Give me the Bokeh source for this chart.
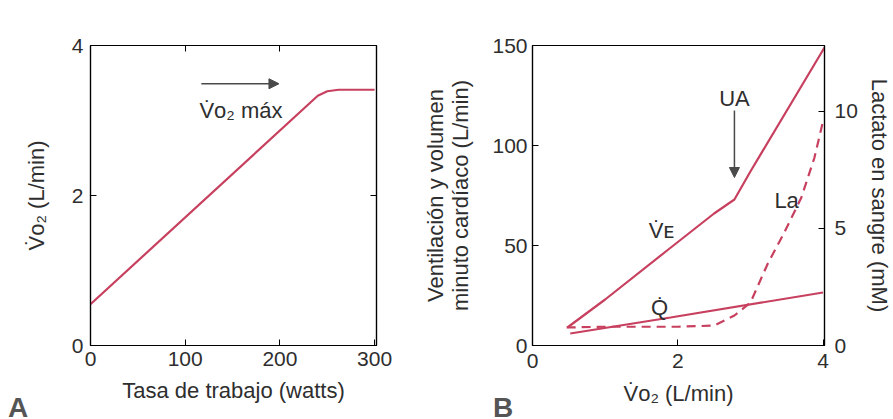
from bokeh.plotting import figure
from bokeh.models import LinearAxis, Range1d, Label, Arrow, NormalHead, FixedTicker, Div
from bokeh.layouts import row, column
from bokeh.embed import file_html
from bokeh.resources import INLINE

# ---- Panel A: oxygen uptake vs work rate ----
work_watts = [0, 240, 250, 262, 300]
vo2_lmin = [0.55, 3.33, 3.39, 3.41, 3.41]
a_xticks = [0, 100, 200, 300]
a_yticks = [0, 2, 4]

# ---- Panel B: ventilation, cardiac output and blood lactate vs VO2 ----
ve_x = [0.48, 1.0, 1.87, 2.5, 2.78, 3.0, 4.02]
ve_y = [9, 23, 48, 66, 73, 87, 149]
q_x = [0.52, 1.9, 4.0]
q_y = [6, 14, 26.5]
la_x = [0.47, 1.0, 2.0, 2.5, 2.78, 3.0, 3.24, 3.46, 3.7, 3.88, 4.01]
la_y = [0.77, 0.8, 0.8, 0.85, 1.28, 1.83, 3.5, 4.78, 6.3, 8.0, 9.7]
b_xticks = [0, 2, 4]
b_yticks = [0, 50, 100, 150]
b_rticks = [0, 5, 10]

panel_letters = ["A", "B"]

LINE = "#c8405f"
INK = "#2e2e2e"
FONT = "Liberation Sans"
TICK_PX = "21px"
LABEL_PX = "22px"


def style_axis(ax, standoff, label_standoff=None):
    ax.axis_line_color = "black"
    ax.axis_line_width = 1.2
    ax.major_tick_in = 6
    ax.major_tick_out = 0
    ax.major_tick_line_color = "black"
    ax.minor_tick_line_color = None
    ax.major_label_text_font = FONT
    ax.major_label_text_color = INK
    ax.major_label_text_font_size = TICK_PX
    ax.major_label_standoff = standoff
    ax.axis_label_text_font = FONT
    ax.axis_label_text_font_size = LABEL_PX
    ax.axis_label_text_font_style = "normal"
    ax.axis_label_text_color = INK
    ax.axis_label_text_line_height = 1.0
    if label_standoff is not None:
        ax.axis_label_standoff = label_standoff


def tick_only_axis(ticks, **kw):
    ax = LinearAxis(ticker=FixedTicker(ticks=ticks), **kw)
    style_axis(ax, 0)
    ax.major_label_overrides = {t: "" for t in ticks}
    return ax


def text(p, x, y, s, size="22px", align="center", baseline="middle"):
    p.add_layout(Label(x=x, y=y, text=s, text_font=FONT, text_font_size=size,
                       text_align=align, text_baseline=baseline,
                       text_color=INK))


def arrow(p, x0, y0, x1, y1):
    p.add_layout(Arrow(x_start=x0, y_start=y0, x_end=x1, y_end=y1,
                       line_color="#4a4a4a", line_width=1.5,
                       end=NormalHead(size=10, fill_color="#4a4a4a",
                                      line_color="#4a4a4a")))


def base_figure(**kw):
    p = figure(output_backend="svg", toolbar_location=None, **kw)
    p.grid.visible = False
    p.outline_line_color = "black"
    p.outline_line_width = 1.2
    p.background_fill_color = "white"
    p.border_fill_color = "white"
    return p


# ================= Panel A =================
pa = base_figure(width=420, height=419, frame_width=286, frame_height=300,
                 x_range=Range1d(0, 302), y_range=Range1d(0, 4),
                 min_border_left=90, min_border_right=44,
                 min_border_top=42, min_border_bottom=77)
pa.xaxis.ticker = FixedTicker(ticks=a_xticks)
pa.yaxis.ticker = FixedTicker(ticks=a_yticks)
pa.xaxis.axis_label = "Tasa de trabajo (watts)"
pa.yaxis.axis_label = "V̇ᴏ₂ (L/min)"
style_axis(pa.xaxis[0], 6, 9)
style_axis(pa.yaxis[0], 7, 20)
pa.add_layout(tick_only_axis([100, 200]), "above")
pa.add_layout(tick_only_axis([2]), "right")

pa.line(work_watts, vo2_lmin, line_color=LINE, line_width=2.2)

arrow(pa, 117, 3.49, 199, 3.49)
text(pa, 115, 3.13, "V̇ᴏ₂ máx", align="left")

# ================= Panel B =================
pb = base_figure(width=473, height=419, frame_width=292, frame_height=300,
                 x_range=Range1d(0, 4.02), y_range=Range1d(0, 150),
                 min_border_left=111, min_border_right=70,
                 min_border_top=45, min_border_bottom=74)
pb.extra_y_ranges = {"la": Range1d(0, 12.8)}

pb.xaxis.ticker = FixedTicker(ticks=b_xticks)
pb.yaxis.ticker = FixedTicker(ticks=b_yticks)
pb.xaxis.axis_label = "V̇ᴏ₂ (L/min)"
pb.yaxis.axis_label = "Ventilación y volumen\nminuto cardíaco (L/min)"
style_axis(pb.xaxis[0], 8, 10)
style_axis(pb.yaxis[0], 5, 16)

right_b = LinearAxis(y_range_name="la", ticker=FixedTicker(ticks=b_rticks),
                     axis_label="Lactato en sangre (mM)")
style_axis(right_b, 10, 6)
pb.add_layout(right_b, "right")

pb.line(ve_x, ve_y, line_color=LINE, line_width=2.2)
pb.line(q_x, q_y, line_color=LINE, line_width=2.2)
pb.line(la_x, la_y, y_range_name="la", line_color=LINE, line_width=2.2,
        line_dash="9 6")

arrow(pb, 2.78, 117.5, 2.78, 84)
text(pb, 2.78, 123.5, "UA")
text(pb, 1.6, 57.5, "V̇ᴇ", align="left")
text(pb, 1.75, 19, "Q̇")
text(pb, 3.33, 72.5, "La", align="left")

# ---- panel letters in the lower-left corners (outside the plot frames) ----
letter_css = ("position:absolute;top:-44px;line-height:32px;"
              "font:bold 28px 'Liberation Sans';color:#555555;")
letters_html = (
    '<div style="position:relative;height:0;overflow:visible">'
    f'<span style="{letter_css}left:3px">{panel_letters[0]}</span>'
    f'<span style="{letter_css}left:488px">{panel_letters[1]}</span>'
    '</div>'
)
letters = Div(text=letters_html, width=893, height=0,
              styles={"overflow": "visible"})

layout = column(row(pa, pb), letters)
open("out.html", "w").write(file_html(layout, INLINE))
